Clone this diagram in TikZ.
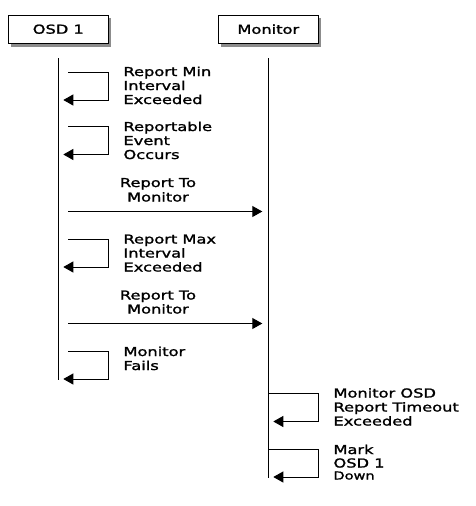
\documentclass[tikz,border=0pt]{standalone}
\usepackage{fontspec}
\setmainfont{DejaVu Sans}
\newfontfamily\lblfont[FakeStretch=1.32,FakeBold=1.6]{DejaVu Sans}
\usetikzlibrary{arrows.meta}
\begin{document}
\begin{tikzpicture}[x=1pt,y=-1pt,
  lbl/.style={font=\lblfont\fontsize{12.3}{14}\selectfont, inner sep=0, anchor=base west},
  ctr/.style={lbl, anchor=base},
  small/.style={lbl, font=\lblfont\fontsize{11}{12}\selectfont},
  head/.style={draw, line width=1pt, fill=white, minimum width=100pt, minimum height=28pt, inner sep=0,
    font=\lblfont\fontsize{12.3}{14}\selectfont},
  shadow/.style={fill=black!45},
  life/.style={line width=1pt},
  msg/.style={line width=1pt, -{Triangle[length=10pt,width=11pt]}},
]
\useasboundingbox (0,0) rectangle (476,506);
% headers
\fill[shadow] (11.3,18.2) rectangle (111.3,46.5);
\fill[shadow] (221.3,18.2) rectangle (321.3,46.5);
\node[head] (osd) at (58.3,29.2) {OSD 1};
\node[head] (mon) at (268.3,29.2) {Monitor};
% lifelines
\coordinate (osdtop) at (58.3,58);
\coordinate (osdbot) at (58.3,380);
\coordinate (montop) at (268.3,58);
\coordinate (monbot) at (268.3,478);
\draw[life] (osdtop) -- (osdbot);
\draw[life] (montop) -- (monbot);
% loop 1
\coordinate (s1) at (68.3,72);
\coordinate (e1) at (63.3,100);
\draw[msg] (s1) -- ++(40,0) |- (e1);
\node[lbl] (t1a) at (123.3,76) {Report Min};
\node[lbl] (t1b) at (123.3,90) {Interval};
\node[lbl] (t1c) at (123.3,104) {Exceeded};
% loop 2
\coordinate (s2) at (68.3,126.5);
\coordinate (e2) at (63.3,154.5);
\draw[msg] (s2) -- ++(40,0) |- (e2);
\node[lbl] (t2a) at (123.3,131) {Reportable};
\node[lbl] (t2b) at (123.3,145) {Event};
\node[lbl] (t2c) at (123.3,159) {Occurs};
% message 1
\coordinate (m1s) at (68.3,211.5);
\coordinate (m1e) at (262.3,211.5);
\draw[msg] (m1s) -- (m1e);
\node[ctr] (m1a) at (158,187) {Report To};
\node[ctr] (m1b) at (158,201.5) {Monitor};
% loop 3
\coordinate (s3) at (68.3,239);
\coordinate (e3) at (63.3,267);
\draw[msg] (s3) -- ++(40,0) |- (e3);
\node[lbl] (t3a) at (123.3,243.5) {Report Max};
\node[lbl] (t3b) at (123.3,257.5) {Interval};
\node[lbl] (t3c) at (123.3,271.5) {Exceeded};
% message 2
\coordinate (m2s) at (68.3,323.5);
\coordinate (m2e) at (262.3,323.5);
\draw[msg] (m2s) -- (m2e);
\node[ctr] (m2a) at (158,299.5) {Report To};
\node[ctr] (m2b) at (158,313.5) {Monitor};
% loop 4
\coordinate (s4) at (68.3,351.5);
\coordinate (e4) at (63.3,379);
\draw[msg] (s4) -- ++(40,0) |- (e4);
\node[lbl] (t4a) at (123.3,356) {Monitor};
\node[lbl] (t4b) at (123.3,370) {Fails};
% monitor loop 1
\coordinate (s5) at (268.3,393.5);
\coordinate (e5) at (273.3,421.5);
\draw[msg] (s5) -- ++(50,0) |- (e5);
\node[lbl] (t5a) at (333.3,397.5) {Monitor OSD};
\node[lbl] (t5b) at (333.3,411.5) {Report Timeout};
\node[lbl] (t5c) at (333.3,425.5) {Exceeded};
% monitor loop 2
\coordinate (s6) at (268.3,449.5);
\coordinate (e6) at (273.3,477);
\draw[msg] (s6) -- ++(50,0) |- (e6);
\node[lbl] (t6a) at (333.3,454) {Mark};
\node[lbl] (t6b) at (333.3,467.5) {OSD 1};
\node[small] (t6c) at (333.3,479.5) {Down};
\end{tikzpicture}
\end{document}
